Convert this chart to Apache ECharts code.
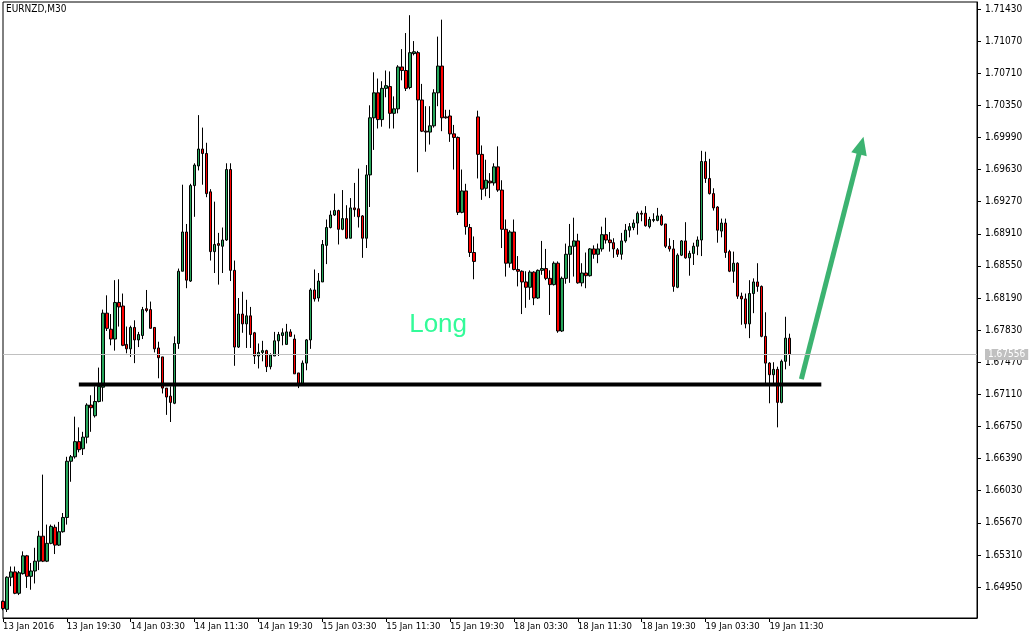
<!DOCTYPE html>
<html>
<head>
<meta charset="utf-8">
<script src="https://cdn.jsdelivr.net/npm/echarts@6/dist/echarts.min.js"></script>
<style>html,body{margin:0;padding:0;background:#fff}#c{width:1036px;height:639px}</style>
</head>
<body>
<div id="c"></div>
<script>
const symbolName = 'EURNZD,M30';
const tickLabels = ['13 Jan 2016','13 Jan 19:30','14 Jan 03:30','14 Jan 11:30','14 Jan 19:30','15 Jan 03:30','15 Jan 11:30','15 Jan 19:30','18 Jan 03:30','18 Jan 11:30','18 Jan 19:30','19 Jan 03:30','19 Jan 11:30'];
const barsPerLabel = 16;
const slotCount = 245;
const yTicks = [1.64950,1.65310,1.65670,1.66030,1.66390,1.66750,1.67110,1.67470,1.67830,1.68190,1.68550,1.68910,1.69270,1.69630,1.69990,1.70350,1.70710,1.71070,1.71430];
const yMin = 1.64603, yMax = 1.71508;

// [open, close, low, high]
const candlesA = [
[1.6479,1.6471,1.6469,1.6480],[1.6470,1.6506,1.6467,1.6507],[1.6506,1.6512,1.6496,1.6518],[1.6512,1.6488,1.6487,1.6518],
[1.6488,1.6511,1.6486,1.6513],[1.6510,1.6530,1.6509,1.6535],[1.6530,1.6507,1.6494,1.6531],[1.6507,1.6513,1.6492,1.6522],
[1.6513,1.6524,1.6499,1.6539],[1.6524,1.6552,1.6514,1.6558],[1.6552,1.6524,1.6523,1.6621],[1.6524,1.6544,1.6523,1.6565],
[1.6544,1.6563,1.6543,1.6565],[1.6562,1.6542,1.6532,1.6565],[1.6542,1.6557,1.6541,1.6568],[1.6557,1.6573,1.6556,1.6578],
[1.6573,1.6636,1.6565,1.6641],[1.6636,1.6641,1.6613,1.6643],[1.6641,1.6658,1.6639,1.6686],[1.6658,1.6649,1.6646,1.6674],
[1.6650,1.6663,1.6643,1.6669],[1.6663,1.6699,1.6656,1.6701],[1.6699,1.6696,1.6669,1.6710],[1.6687,1.6703,1.6685,1.6720],
[1.6703,1.6720,1.6702,1.6741],[1.6719,1.6802,1.6703,1.6806],[1.6802,1.6785,1.6782,1.6822],[1.6784,1.6773,1.6766,1.6801],
[1.6773,1.6814,1.6760,1.6839],[1.6814,1.6809,1.6787,1.6840],[1.6810,1.6766,1.6765,1.6824],[1.6767,1.6762,1.6757,1.6787],
[1.6762,1.6786,1.6753,1.6788],[1.6786,1.6772,1.6746,1.6794],[1.6772,1.6778,1.6764,1.6781],[1.6777,1.6806,1.6773,1.6809],
[1.6807,1.6805,1.6803,1.6828],[1.6806,1.6785,1.6785,1.6815],[1.6786,1.6762,1.6758,1.6786],[1.6763,1.6752,1.6729,1.6770],
[1.6753,1.6718,1.6712,1.6753],[1.6718,1.6708,1.6688,1.6718],[1.6709,1.6702,1.6680,1.6720],[1.6701,1.6768,1.6700,1.6776],
[1.6768,1.6849,1.6762,1.6852],[1.6849,1.6893,1.6849,1.6946],[1.6893,1.6839,1.6830,1.6902],[1.6838,1.6945,1.6837,1.6947],
[1.6945,1.6968,1.6910,1.6970],[1.6967,1.6986,1.6962,1.7024]
];
const candlesB = [
[1.6986,1.6981,1.6946,1.7010],[1.6981,1.6936,1.6932,1.6993],[1.6938,1.6871,1.6861,1.6941],[1.6871,1.6879,1.6847,1.6927],
[1.6880,1.6878,1.6834,1.6892],[1.6877,1.6884,1.6847,1.6898],[1.6884,1.6963,1.6883,1.6970],[1.6963,1.6850,1.6838,1.6970],
[1.6850,1.6764,1.6743,1.6861],[1.6764,1.6801,1.6763,1.6819],[1.6801,1.6790,1.6780,1.6826],[1.6790,1.6799,1.6763,1.6817],
[1.6799,1.6778,1.6763,1.6809],[1.6780,1.6754,1.6745,1.6781],[1.6754,1.6758,1.6740,1.6768],[1.6758,1.6760,1.6748,1.6771],
[1.6760,1.6742,1.6736,1.6761],[1.6742,1.6755,1.6739,1.6757],[1.6754,1.6771,1.6754,1.6781],[1.6771,1.6778,1.6754,1.6781],
[1.6777,1.6780,1.6766,1.6785],[1.6767,1.6781,1.6767,1.6790],[1.6781,1.6776,1.6776,1.6784],[1.6773,1.6734,1.6734,1.6778],
[1.6735,1.6723,1.6718,1.6735],[1.6723,1.6746,1.6722,1.6749],[1.6746,1.6772,1.6738,1.6773],[1.6772,1.6828,1.6762,1.6830],
[1.6828,1.6818,1.6815,1.6851],[1.6819,1.6838,1.6815,1.6847],[1.6837,1.6879,1.6837,1.6884],[1.6878,1.6898,1.6857,1.6907],
[1.6898,1.6912,1.6897,1.6917],[1.6912,1.6917,1.6911,1.6936],[1.6917,1.6896,1.6879,1.6918],[1.6896,1.6908,1.6895,1.6940],
[1.6908,1.6886,1.6885,1.6923],[1.6886,1.6920,1.6886,1.6931],[1.6920,1.6918,1.6910,1.6948],[1.6919,1.6910,1.6898,1.6964],
[1.6911,1.6886,1.6864,1.6912],[1.6886,1.6957,1.6875,1.6968],[1.6957,1.7021,1.6921,1.7035],[1.7021,1.7049,1.6985,1.7072],
[1.7049,1.7019,1.7009,1.7065],[1.7019,1.7054,1.7011,1.7062],[1.7054,1.7057,1.7044,1.7074],[1.7056,1.7026,1.7009,1.7073],
[1.7026,1.7031,1.7009,1.7045],[1.7031,1.7078,1.7026,1.7080]
];
const candlesC = [
[1.7078,1.7074,1.7063,1.7098],[1.7074,1.7054,1.7051,1.7116],[1.7055,1.7094,1.7053,1.7136],[1.7093,1.7095,1.7091,1.7107],
[1.7094,1.7041,1.6960,1.7096],[1.7041,1.7006,1.7005,1.7059],[1.7006,1.7005,1.6983,1.7034],[1.7005,1.7012,1.6991,1.7034],
[1.7012,1.7049,1.7010,1.7053],[1.7049,1.7079,1.7034,1.7112],[1.7079,1.7021,1.7006,1.7131],[1.7022,1.7021,1.7020,1.7030],
[1.7023,1.7003,1.6994,1.7030],[1.7003,1.6999,1.6963,1.7013],[1.6999,1.6915,1.6912,1.7000],[1.6915,1.6939,1.6914,1.6963],
[1.6939,1.6899,1.6890,1.6947],[1.6898,1.6870,1.6865,1.6902],[1.6870,1.6860,1.6840,1.6888],[1.7022,1.6980,1.6953,1.7029],
[1.6980,1.6941,1.6929,1.6990],[1.6942,1.6951,1.6933,1.6974],[1.6950,1.6948,1.6931,1.6959],[1.6948,1.6966,1.6945,1.6970],
[1.6966,1.6940,1.6938,1.6989],[1.6940,1.6896,1.6875,1.6951],[1.6896,1.6858,1.6843,1.6907],[1.6858,1.6893,1.6853,1.6895],
[1.6893,1.6851,1.6850,1.6907],[1.6851,1.6849,1.6832,1.6866],[1.6849,1.6837,1.6801,1.6850],[1.6837,1.6831,1.6808,1.6849],
[1.6831,1.6848,1.6817,1.6850],[1.6848,1.6819,1.6811,1.6849],[1.6819,1.6850,1.6818,1.6851],[1.6850,1.6852,1.6845,1.6883],
[1.6852,1.6841,1.6839,1.6874],[1.6841,1.6834,1.6800,1.6850],[1.6834,1.6858,1.6833,1.6860],[1.6858,1.6782,1.6780,1.6860],
[1.6782,1.6841,1.6781,1.6843],[1.6841,1.6868,1.6835,1.6880],[1.6868,1.6877,1.6836,1.6902],[1.6877,1.6883,1.6843,1.6909],
[1.6883,1.6836,1.6835,1.6891],[1.6836,1.6847,1.6832,1.6858],[1.6847,1.6844,1.6830,1.6870],[1.6844,1.6874,1.6843,1.6875],
[1.6874,1.6868,1.6863,1.6878],[1.6868,1.6874,1.6858,1.6880]
];
const candlesD = [
[1.6874,1.6890,1.6871,1.6899],[1.6890,1.6884,1.6880,1.6909],[1.6884,1.6881,1.6871,1.6893],[1.6881,1.6874,1.6864,1.6886],
[1.6873,1.6868,1.6865,1.6875],[1.6868,1.6883,1.6862,1.6892],[1.6883,1.6895,1.6881,1.6902],[1.6895,1.6899,1.6887,1.6903],
[1.6898,1.6903,1.6895,1.6907],[1.6903,1.6914,1.6890,1.6916],[1.6914,1.6913,1.6905,1.6917],[1.6914,1.6900,1.6899,1.6922],
[1.6899,1.6907,1.6897,1.6910],[1.6906,1.6907,1.6904,1.6914],[1.6906,1.6911,1.6905,1.6920],[1.6911,1.6901,1.6900,1.6913],
[1.6902,1.6877,1.6875,1.6902],[1.6877,1.6874,1.6871,1.6886],[1.6874,1.6832,1.6826,1.6884],[1.6831,1.6867,1.6830,1.6869],
[1.6867,1.6883,1.6866,1.6884],[1.6883,1.6864,1.6863,1.6904],[1.6864,1.6869,1.6844,1.6872],[1.6869,1.6877,1.6856,1.6881],
[1.6877,1.6884,1.6867,1.6888],[1.6884,1.6972,1.6866,1.6984],[1.6972,1.6953,1.6948,1.6983],[1.6953,1.6936,1.6935,1.6975],
[1.6936,1.6920,1.6917,1.6942],[1.6921,1.6895,1.6881,1.6922],[1.6894,1.6903,1.6887,1.6908],[1.6903,1.6870,1.6864,1.6908],
[1.6871,1.6849,1.6848,1.6873],[1.6849,1.6858,1.6836,1.6871],[1.6858,1.6821,1.6818,1.6859],[1.6821,1.6818,1.6789,1.6825],
[1.6818,1.6790,1.6785,1.6824],[1.6790,1.6824,1.6774,1.6839],[1.6824,1.6837,1.6802,1.6841],[1.6837,1.6832,1.6826,1.6858],
[1.6832,1.6776,1.6775,1.6833],[1.6776,1.6746,1.6723,1.6803],[1.6746,1.6733,1.6701,1.6747],[1.6733,1.6739,1.6723,1.6747],
[1.6739,1.6702,1.6674,1.6742],[1.6702,1.6748,1.6701,1.6750],[1.6748,1.6774,1.6739,1.6798],[1.6774,1.67556,1.6743,1.6779]
];

const supportLevel = 1.6722;
const supportFromBar = 19, supportToBar = 205;
const currentPrice = 1.67556;
const arrowStart = [200, 1.67282];
const arrowEnd = [215, 1.6990];
const noteText = 'Long';
const notePoint = [109, 1.6789];

const ohlc = candlesA.concat(candlesB, candlesC, candlesD);
const categories = Array.from({length: slotCount}, (_, i) => String(i));
const FONT = "'DejaVu Sans Condensed','Liberation Sans Narrow','Liberation Sans',sans-serif";
const isLabelSlot = (i) => i % barsPerLabel === 0 && i / barsPerLabel < tickLabels.length;

const chart = echarts.init(document.getElementById('c'), null, {renderer: 'canvas'});
chart.setOption({
  animation: false,
  backgroundColor: '#fff',
  title: {
    text: symbolName, left: 6, top: 4, padding: 0,
    textStyle: {fontSize: 10, fontWeight: 'normal', color: '#000', fontFamily: FONT}
  },
  grid: {left: 2, right: 59, top: 2, bottom: 21, show: true, borderColor: '#000', borderWidth: 1, backgroundColor: '#fff'},
  xAxis: {
    type: 'category', data: categories, boundaryGap: false,
    axisLine: {show: true, lineStyle: {color: '#000', width: 1}},
    axisTick: {show: true, interval: isLabelSlot, length: 4, lineStyle: {color: '#000'}},
    axisLabel: {
      interval: isLabelSlot, align: 'left', margin: 4,
      formatter: (v, i) => tickLabels[Number(v) / barsPerLabel] || '',
      color: '#000', fontSize: 9.5, fontFamily: FONT
    },
    splitLine: {show: false}
  },
  yAxis: {
    type: 'value', position: 'right', min: yMin, max: yMax, scale: true,
    axisLine: {show: true, lineStyle: {color: '#000', width: 1}},
    axisTick: {show: true, length: 4, lineStyle: {color: '#000'}, customValues: yTicks},
    axisLabel: {customValues: yTicks, formatter: (v) => v.toFixed(5), color: '#000', fontSize: 10, fontFamily: FONT, margin: 8},
    splitLine: {show: false}
  },
  series: [
    {
      type: 'candlestick', data: ohlc, barWidth: 3, z: 3,
      itemStyle: {color: '#26a65b', color0: '#ff0000', borderColor: '#000', borderColor0: '#000', borderWidth: 1}
    },
    {
      type: 'line', z: 4, symbol: 'none', silent: true,
      data: [[supportFromBar, supportLevel], [supportToBar, supportLevel]],
      lineStyle: {color: '#000', width: 4, cap: 'butt'},
      markLine: {
        silent: true, animation: false,
        symbol: ['none', 'triangle'], symbolSize: [16, 18],
        data: [[{coord: arrowStart}, {coord: arrowEnd}]],
        lineStyle: {color: '#3cb371', width: 5, type: 'solid'},
        itemStyle: {color: '#3cb371'},
        label: {show: false}
      }
    },
    {
      type: 'scatter', z: 2, silent: true, symbolSize: 0,
      data: [notePoint],
      label: {show: true, position: 'inside', formatter: noteText, color: '#00fa80', fontSize: 26, fontFamily: "'Liberation Sans',Arial,sans-serif"},
      markLine: {
        silent: true, symbol: 'none', animation: false, precision: 5,
        data: [{yAxis: currentPrice}],
        lineStyle: {color: '#c0c0c0', width: 1, type: 'solid'},
        label: {
          show: true, position: 'end', distance: 8,
          formatter: () => currentPrice.toFixed(5),
          backgroundColor: '#c0c0c0', color: '#fff', padding: [1, 3, 0, 3],
          fontSize: 10, fontFamily: FONT
        }
      }
    }
  ]
});
</script>
</body>
</html>
